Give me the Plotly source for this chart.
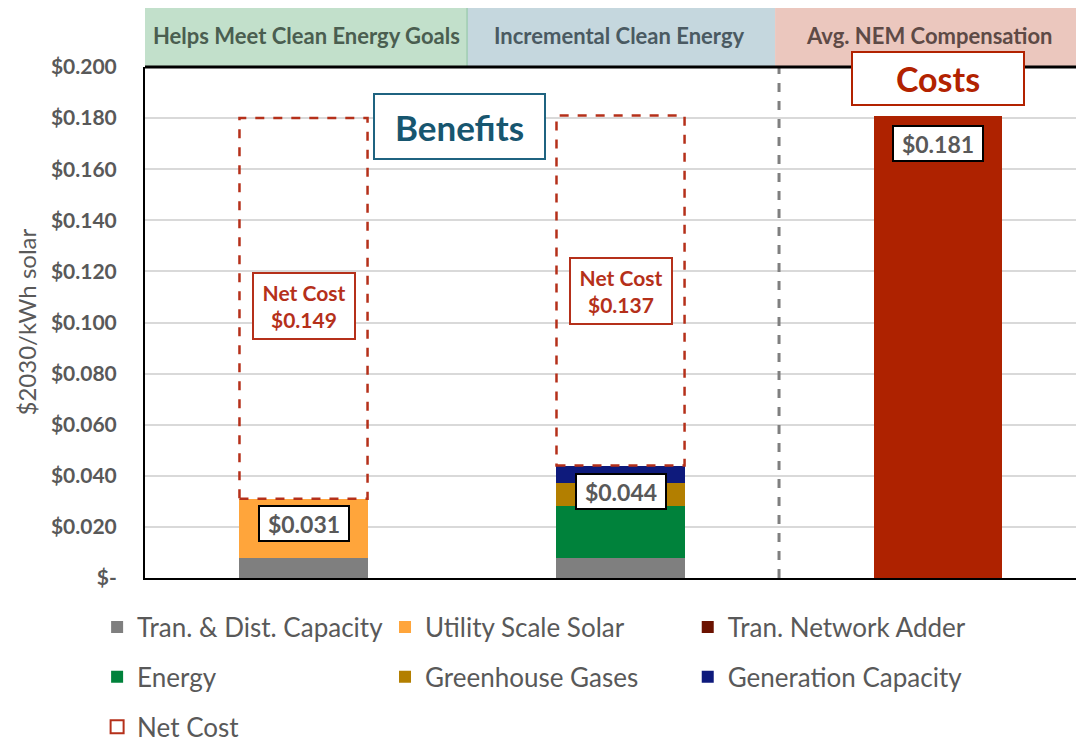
import plotly.graph_objects as go

# ---------------- data ----------------
categories = ["Helps Meet Clean Energy Goals", "Incremental Clean Energy", "Avg. NEM Compensation"]
td_capacity = [0.008, 0.008, 0.0]
utility_solar = [0.023, 0.0, 0.0]
network_adder = [0.0, 0.0, 0.0]
energy = [0.0, 0.020, 0.0]
greenhouse_gases = [0.0, 0.009, 0.0]
generation_capacity = [0.0, 0.007, 0.0]
nem_compensation = [0.0, 0.0, 0.181]
benefit_totals = [0.031, 0.044]
net_costs = [0.149, 0.137]
totals = [0.031, 0.044, 0.181]
y_ticks = [0.0, 0.02, 0.04, 0.06, 0.08, 0.10, 0.12, 0.14, 0.16, 0.18, 0.20]
y_tick_labels = ["$-", "$0.020", "$0.040", "$0.060", "$0.080", "$0.100",
                 "$0.120", "$0.140", "$0.160", "$0.180", "$0.200"]

FONT = "Lato"
GRAY_TXT = "#595959"
RED = "#B5301A"
xpos = list(range(len(categories)))
BW = 0.404

fig = go.Figure()

series = [
    ("Tran. & Dist. Capacity", td_capacity, "#7F7F7F", "legend", "g1"),
    ("Utility Scale Solar", utility_solar, "#FFA53B", "legend2", "g2"),
    ("Tran. Network Adder", network_adder, "#6B1200", "legend3", "g3"),
    ("Energy", energy, "#00823B", "legend", "g4"),
    ("Greenhouse Gases", greenhouse_gases, "#B37F00", "legend2", "g5"),
    ("Generation Capacity", generation_capacity, "#0E1A7C", "legend3", "g6"),
]
for name, vals, col, leg, grp in series:
    fig.add_trace(go.Bar(x=xpos, y=vals, name=name, marker=dict(color=col, line=dict(width=0)),
                         width=BW, legend=leg, legendgroup=grp, hoverinfo="skip"))

fig.add_trace(go.Bar(x=xpos, y=nem_compensation, name="Avg. NEM Compensation",
                     marker=dict(color="#AE2200", line=dict(width=0)), width=BW,
                     showlegend=False, hoverinfo="skip"))

# legend-only entry for Net Cost
fig.add_trace(go.Scatter(x=[None], y=[None], mode="markers", name="Net Cost",
                         marker=dict(symbol="square-open", size=13, color=RED,
                                     line=dict(width=2, color=RED)),
                         legend="legend", legendgroup="g7"))

# dashed net cost rectangles
for i, (b, n) in enumerate(zip(benefit_totals, net_costs)):
    fig.add_shape(type="rect", xref="x", yref="y", x0=xpos[i] - BW / 2, x1=xpos[i] + BW / 2,
                  y0=b, y1=b + n, line=dict(color=RED, width=2.5, dash="dash"),
                  fillcolor="rgba(0,0,0,0)", layer="above")

# dashed divider
fig.add_shape(type="line", xref="x", yref="paper", x0=1.5, x1=1.5, y0=0, y1=1,
              line=dict(color="#7F7F7F", width=3, dash="dash"))

# header bands
bands = [(0.0, 0.343, "#C2E0CB", "#4A5E50"), (0.343, 0.671, "#C5D7DE", "#4A5A62"),
         (0.671, 1.0, "#EBC7BE", "#5E4A46")]
text_x = [0.1715, 0.5048, 0.835]
for (x0, x1, fc, tc), lab, tx in zip(bands, categories, text_x):
    fig.add_shape(type="rect", xref="paper", yref="paper", x0=x0, x1=x1, y0=1.0, y1=1.1213,
                  fillcolor=fc, line=dict(width=0), layer="below")
    fig.add_annotation(xref="paper", yref="paper", x=tx, y=1.0607, text=lab, showarrow=False,
                       xanchor="center", yanchor="middle",
                       font=dict(family=FONT, size=22, color=tc, weight="bold"))
fig.add_shape(type="line", xref="paper", yref="paper", x0=0.343, x1=0.343, y0=1.0, y1=1.1213,
              line=dict(color="#8CC4A0", width=1))

# top border
fig.add_shape(type="line", xref="paper", yref="paper", x0=0, x1=1, y0=1, y1=1,
              line=dict(color="black", width=3))

# value labels
label_y = [0.0215, 0.0337, 0.170]
for i, (t, ly) in enumerate(zip(totals, label_y)):
    fig.add_annotation(x=xpos[i], y=ly, xref="x", yref="y", text=f"<b>${t:.3f}</b>",
                       showarrow=False, xanchor="center", yanchor="middle",
                       font=dict(family=FONT, size=23, color=GRAY_TXT),
                       bgcolor="white", bordercolor="black", borderwidth=2, borderpad=0,
                       width=88, height=33)

# net cost labels
nc_y = [0.1065, 0.1123]
for i, (n, ly) in enumerate(zip(net_costs, nc_y)):
    fig.add_annotation(x=xpos[i], y=ly, xref="x", yref="y",
                       text=f"<b>Net Cost<br>${n:.3f}</b>", showarrow=False,
                       xanchor="center", yanchor="middle",
                       font=dict(family=FONT, size=21, color=RED),
                       bgcolor="white", bordercolor=RED, borderwidth=2, borderpad=0,
                       width=100, height=64)

# Benefits / Costs boxes
fig.add_annotation(x=0.492, y=0.1767, xref="x", yref="y", text="<b>Benefits</b>", showarrow=False,
                   xanchor="center", yanchor="middle",
                   font=dict(family=FONT, size=35, color="#17566F"), bgcolor="white",
                   bordercolor="#1F6380", borderwidth=2, borderpad=0, width=169, height=63)
fig.add_annotation(x=2.0, y=0.1955, xref="x", yref="y", text="<b>Costs</b>", showarrow=False,
                   xanchor="center", yanchor="middle",
                   font=dict(family=FONT, size=34, color="#B22200"), bgcolor="white",
                   bordercolor="#B22200", borderwidth=2, borderpad=0, width=170, height=51)

# y axis title
fig.add_annotation(xref="paper", yref="paper", x=-0.1267, y=0.5, text="$2030/kWh solar",
                   textangle=-90, showarrow=False, xanchor="center", yanchor="middle",
                   font=dict(family=FONT, size=24, color=GRAY_TXT))

leg_common = dict(orientation="v", xanchor="left", yanchor="top", traceorder="grouped",
                  tracegroupgap=13, font=dict(family=FONT, size=26, color=GRAY_TXT),
                  bgcolor="rgba(0,0,0,0)", itemclick=False, itemdoubleclick=False)

# the page places the figure 8px from the top-left corner; sizes compensate for that
fig.update_layout(
    width=1076, height=739,
    margin=dict(l=137, r=0, t=59, b=169, autoexpand=False),
    paper_bgcolor="white", plot_bgcolor="white",
    barmode="stack",
    showlegend=True,
    font=dict(family=FONT, color=GRAY_TXT),
    xaxis=dict(range=[-0.5, 2.462], showticklabels=False, showgrid=False, zeroline=False,
               showline=True, linecolor="black", linewidth=2, fixedrange=True),
    yaxis=dict(range=[0, 0.2], tickvals=y_ticks, ticktext=y_tick_labels,
               tickfont=dict(family=FONT, size=21, color=GRAY_TXT, weight="bold"),
               showgrid=True, gridcolor="#D9D9D9", gridwidth=2, zeroline=False,
               showline=True, linecolor="black", linewidth=2, ticks="",
               ticklabelstandoff=22, fixedrange=True),
    legend=dict(x=-0.051, y=-0.0502, **leg_common),
    legend2=dict(x=0.2556, y=-0.0502, **leg_common),
    legend3=dict(x=0.578, y=-0.0502, **leg_common),
)

fig.write_html("out.html")
